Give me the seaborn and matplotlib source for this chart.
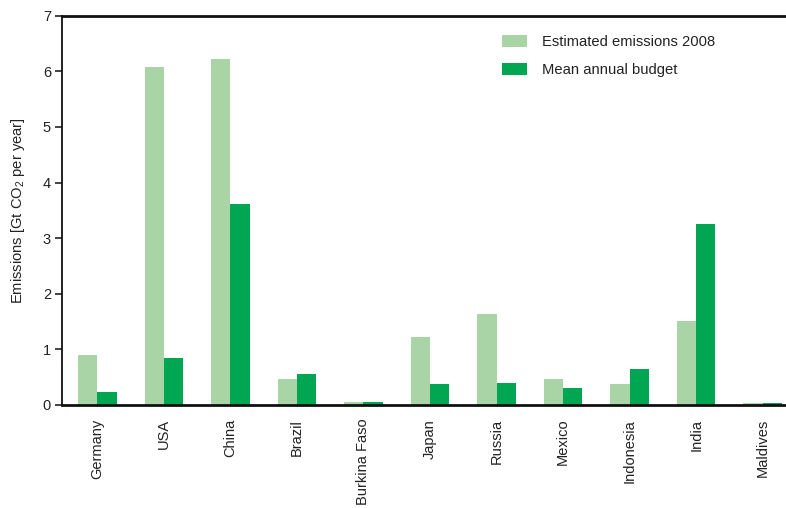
import matplotlib
matplotlib.use("Agg")
import matplotlib.pyplot as plt
import seaborn as sns
import pandas as pd

# Data ---------------------------------------------------------------------------------
countries = [
    "Germany", "USA", "China", "Brazil", "Burkina Faso", "Japan",
    "Russia", "Mexico", "Indonesia", "India", "Maldives",
]
emissions_2008 = [0.90, 6.08, 6.23, 0.47, 0.05, 1.22, 1.64, 0.47, 0.38, 1.51, 0.04]
annual_budget = [0.24, 0.85, 3.61, 0.56, 0.06, 0.37, 0.40, 0.31, 0.65, 3.26, 0.04]
series_names = ["Estimated emissions 2008", "Mean annual budget"]
y_ticks = [0, 1, 2, 3, 4, 5, 6, 7]

df = pd.DataFrame({
    "country": countries * 2,
    "value": emissions_2008 + annual_budget,
    "series": [series_names[0]] * len(countries) + [series_names[1]] * len(countries),
})

# Style
sns.set_theme(style="white")
plt.rcParams["font.family"] = ["Liberation Sans", "DejaVu Sans"]
plt.rcParams["mathtext.fontset"] = "custom"
plt.rcParams["mathtext.rm"] = "Liberation Sans"

fig = plt.figure(figsize=(7.86, 5.08), dpi=100)
ax = fig.add_axes([0.079, 0.203, 0.921, 0.766])

palette = {series_names[0]: "#a9d5a6", series_names[1]: "#00a651"}
sns.barplot(
    data=df, x="country", y="value", hue="series", palette=palette,
    width=0.58, gap=0, saturation=1, ax=ax, legend=True, linewidth=0,
)

# Axes
ax.set_ylim(0, 7)
ax.set_xlim(-0.53, 10.35)
ax.set_yticks(y_ticks)
ax.set_xlabel("")
ax.set_ylabel("Emissions [Gt CO$_2$ per year]", fontsize=10.6, color="#222222")
ax.yaxis.set_label_coords(-0.048, 0.5)
ax.tick_params(axis="y", which="both", left=True, length=5, width=1.2,
               color="#222222", labelsize=10.5, labelcolor="#222222", pad=3)
ax.tick_params(axis="x", bottom=False, labelsize=10.5, labelcolor="#222222",
               labelrotation=90, pad=4)

for side in ["top", "bottom", "left"]:
    ax.spines[side].set_color("#111111")
ax.spines["top"].set_linewidth(2)
ax.spines["bottom"].set_linewidth(2)
ax.spines["left"].set_linewidth(1.3)
ax.spines["right"].set_visible(False)

# Legend
leg = ax.legend(
    loc="upper left", bbox_to_anchor=(0.59, 0.985), frameon=False,
    fontsize=10.6, handlelength=1.7, handleheight=0.9, labelspacing=0.95,
    handletextpad=1.0,
)
for t in leg.get_texts():
    t.set_color("#222222")

plt.savefig("out.png", dpi=100)
